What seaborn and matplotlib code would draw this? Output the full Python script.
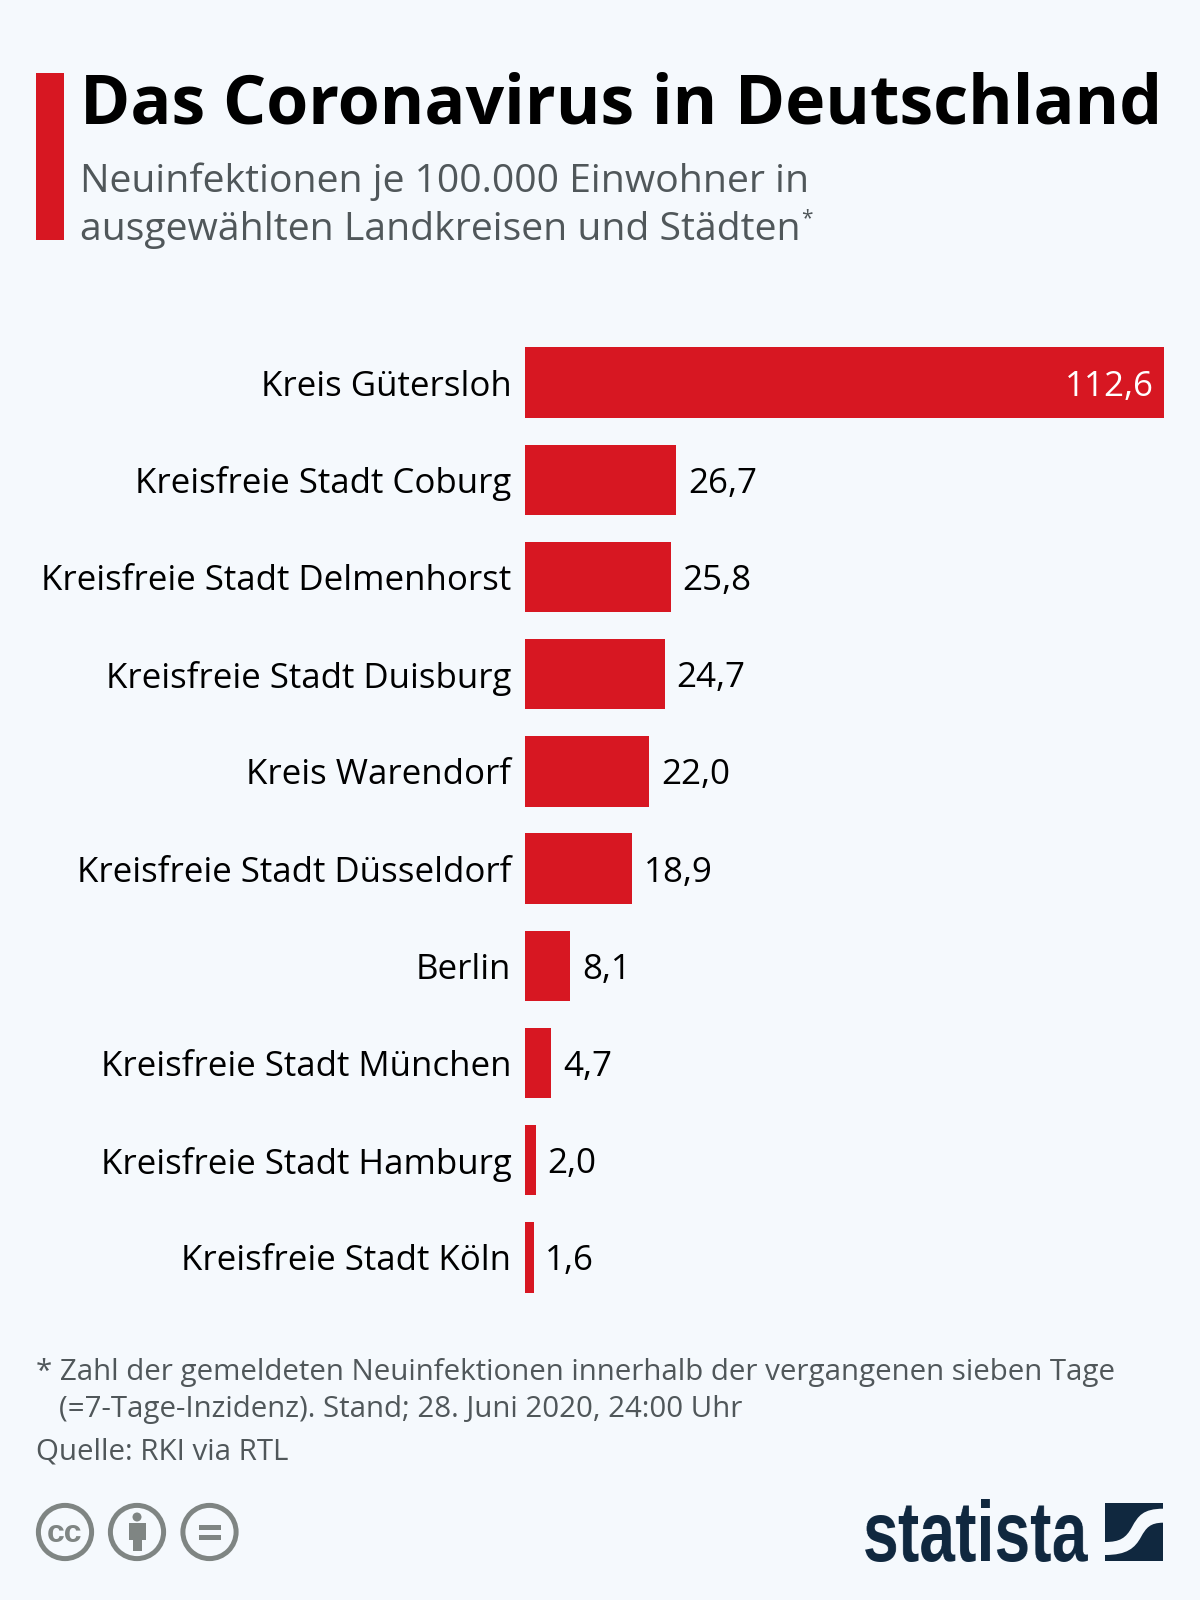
import matplotlib
matplotlib.use("Agg")
import matplotlib.pyplot as plt
from matplotlib.patches import Circle, Rectangle, PathPatch
from matplotlib.path import Path
import numpy as np
import pandas as pd
import seaborn as sns

categories = ["Kreis Gütersloh", "Kreisfreie Stadt Coburg", "Kreisfreie Stadt Delmenhorst",
              "Kreisfreie Stadt Duisburg", "Kreis Warendorf", "Kreisfreie Stadt Düsseldorf",
              "Berlin", "Kreisfreie Stadt München", "Kreisfreie Stadt Hamburg", "Kreisfreie Stadt Köln"]
values = [112.6, 26.7, 25.8, 24.7, 22.0, 18.9, 8.1, 4.7, 2.0, 1.6]

title = "Das Coronavirus in Deutschland"
subtitle = ["Neuinfektionen je 100.000 Einwohner in", "ausgewählten Landkreisen und Städten"]
footnote = ["* Zahl der gemeldeten Neuinfektionen innerhalb der vergangenen sieben Tage",
            "(=7-Tage-Inzidenz). Stand; 28. Juni 2020, 24:00 Uhr"]
source = "Quelle: RKI via RTL"

BG = "#F5F9FD"
RED = "#D71722"
GREY = "#50575A"
ICON = "#7F8583"
NAVY = "#10283F"

sns.set_theme(style="white")
plt.rcParams["font.family"] = ["Open Sans", "DejaVu Sans"]

W, H = 1200, 1600
fig = plt.figure(figsize=(12, 16), dpi=100, facecolor=BG)

# chart axes, placed in pixels
L, R, T, B = 524.5, 1163.5, 334, 1306
ax = fig.add_axes([L / W, 1 - B / H, (R - L) / W, (B - T) / H], facecolor="none")
df = pd.DataFrame({"Kreis": categories, "Wert": values})
sns.barplot(data=df, y="Kreis", x="Wert", color=RED, saturation=1, width=0.725, ax=ax, orient="h",
            edgecolor="none", linewidth=0)
ax.set_xlim(0, max(values))
ax.set_xlabel("")
ax.set_ylabel("")
ax.xaxis.set_visible(False)
sns.despine(ax=ax, left=True, bottom=True)
ax.tick_params(axis="y", length=0, pad=9.5)
for t in ax.get_yticklabels():
    t.set_fontsize(25.15)
    t.set_color("black")
    t.set_va("center_baseline")
for i, v in enumerate(values):
    lab = f"{v:.1f}".replace(".", ",")
    if v > 100:
        ax.annotate(lab, (v, i), xytext=(-7, 0), textcoords="offset points", ha="right",
                    va="center_baseline", color="white", fontsize=25.2)
    else:
        ax.annotate(lab, (v, i), xytext=(8.5, 0), textcoords="offset points", ha="left",
                    va="center_baseline", color="black", fontsize=25.2)

# overlay in pixel coordinates
ov = fig.add_axes([0, 0, 1, 1], facecolor="none")
ov.set_xlim(0, W)
ov.set_ylim(H, 0)
ov.axis("off")

ov.add_patch(Rectangle((36, 73), 28, 167, fc=RED, ec="none"))
ov.text(80, 123, title, fontsize=49, fontweight="bold", color="#000000", va="baseline", ha="left")
ov.text(80, 192, subtitle[0], fontsize=28.2, color=GREY, va="baseline")
ov.text(80, 240, subtitle[1], fontsize=28.2, color=GREY, va="baseline")
ov.text(801, 224, "*", fontsize=15, color=GREY, va="baseline")

ov.text(36, 1380, footnote[0], fontsize=21.25, color=GREY, va="baseline")
ov.text(59, 1417, footnote[1], fontsize=21.25, color=GREY, va="baseline")
ov.text(36, 1459, source, fontsize=21.25, color=GREY, va="baseline")

# licence icons
cy = 1532
for cx in (65, 137, 209.5):
    ov.add_patch(Circle((cx, cy), 26.6, fc="none", ec=ICON, lw=3.6))
ov.text(65, 1542, "cc", fontsize=23, fontweight="bold", color=ICON, ha="center", va="baseline",
        family=["Liberation Sans", "DejaVu Sans"])
ov.add_patch(Circle((137, 1517), 4.5, fc=ICON, ec="none"))
ov.add_patch(Rectangle((129, 1523), 16.5, 17, fc=ICON, ec="none"))
ov.add_patch(Rectangle((132.7, 1540), 9, 11, fc=ICON, ec="none"))
ov.add_patch(Rectangle((199, 1525), 22, 5, fc=ICON, ec="none"))
ov.add_patch(Rectangle((199, 1535), 22, 5, fc=ICON, ec="none"))


def squeeze(img, dpi, f=0.75):
    """Narrow the rendered wordmark horizontally (condensed look)."""
    h, w = img.shape[:2]
    nw = max(int(w * f), 1)
    xs = np.linspace(0, w - 1, nw)
    i0 = np.floor(xs).astype(int)
    i1 = np.minimum(i0 + 1, w - 1)
    t = (xs - i0)[None, :, None]
    return img[:, i0] * (1 - t) + img[:, i1] * t, 0, 0


# statista logo
wm = ov.text(862, 1561, "statista", fontsize=62, fontweight="bold", color=NAVY, va="baseline", ha="left",
             family=["Liberation Sans", "DejaVu Sans"])
wm.set_agg_filter(squeeze)

x0, y0, s = 1105, 1503, 58.3
ov.add_patch(Rectangle((x0, y0), s, s, fc=NAVY, ec="none"))
verts = [(x0 + s, y0 + 5.7), (x0 + 38, y0 + 5.7), (x0 + 33, y0 + 13), (x0 + 27, y0 + 24),
         (x0 + 21, y0 + 35), (x0 + 15, y0 + 39), (x0, y0 + 39),
         (x0, y0 + 52), (x0 + 22, y0 + 52), (x0 + 30, y0 + 45), (x0 + 36, y0 + 34),
         (x0 + 41, y0 + 25), (x0 + 45, y0 + 19.7), (x0 + s, y0 + 19.7), (x0 + s, y0 + 5.7)]
codes = [Path.MOVETO, Path.CURVE4, Path.CURVE4, Path.CURVE4, Path.CURVE4, Path.CURVE4, Path.CURVE4,
         Path.LINETO, Path.CURVE4, Path.CURVE4, Path.CURVE4, Path.CURVE4, Path.CURVE4, Path.CURVE4, Path.CLOSEPOLY]
ov.add_patch(PathPatch(Path(verts, codes), fc=BG, ec="none"))

fig.savefig("out.png", dpi=100, facecolor=BG)
